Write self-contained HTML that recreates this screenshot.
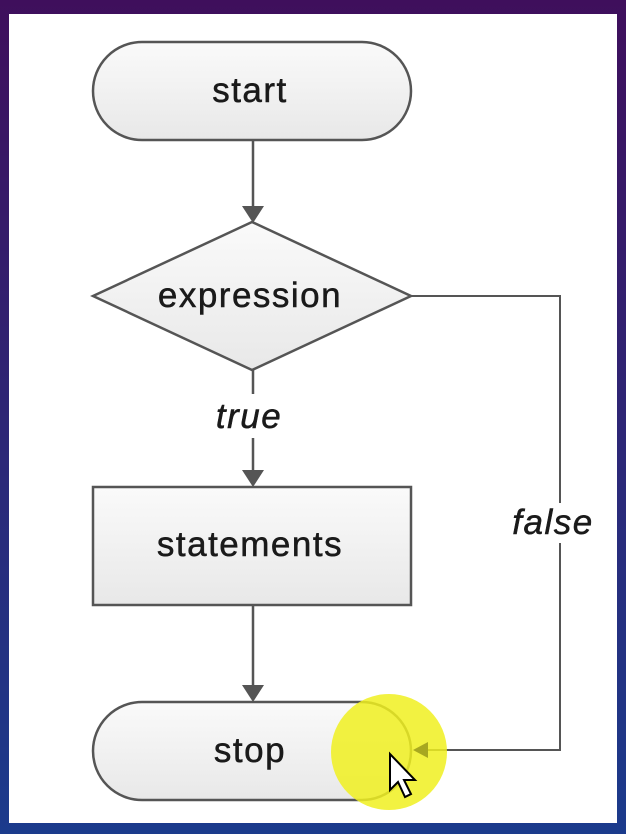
<!DOCTYPE html>
<html><head><style>
html,body{margin:0;padding:0;}
body{width:626px;height:834px;background:linear-gradient(180deg,#3f0f5c 0%,#2a2a7a 60%,#1b3b8c 100%);position:relative;overflow:hidden;}
.panel{position:absolute;left:9px;top:14px;width:608px;height:809px;background:#fff;}
svg{position:absolute;left:0;top:0;}
</style></head><body>
<div class="panel"></div>
<svg width="626" height="834" viewBox="0 0 626 834" font-family="Liberation Sans, sans-serif">
<defs>
<linearGradient id="g" x1="0" y1="0" x2="0" y2="1"><stop offset="0" stop-color="#fafafa"/><stop offset="1" stop-color="#e8e8e8"/></linearGradient>
</defs>
<g stroke="#555" stroke-width="2.5" fill="url(#g)">
<rect x="93" y="42" width="318" height="98" rx="49"/>
<polygon points="93,296 252,222 411,296 252,370"/>
<rect x="93" y="487" width="318" height="118"/>
<rect x="93" y="702" width="318" height="98" rx="49"/>
</g>
<g stroke="#555" stroke-width="2.5" fill="none">
<line x1="253" y1="140" x2="253" y2="208"/>
<line x1="253" y1="370" x2="253" y2="394"/>
<line x1="253" y1="438" x2="253" y2="472"/>
<line x1="253" y1="605" x2="253" y2="687"/>
<polyline points="411,296 560,296 560,750 425,750" stroke-width="2"/>
</g>
<g fill="#555">
<polygon points="242,206 264,206 253,223"/>
<polygon points="242,470 264,470 253,487"/>
<polygon points="242,685 264,685 253,702"/>
</g>
<rect x="498" y="503" width="104" height="40" fill="#fff"/>
<g font-size="35" fill="#1a1a1a" text-anchor="middle" letter-spacing="1.5" stroke="#1a1a1a" stroke-width="0.5">
<text x="250" y="102">start</text>
<text x="250" y="307">expression</text>
<text x="250" y="556">statements</text>
<text x="250" y="762">stop</text>
<text x="249" y="428" font-style="italic">true</text>
<text x="553" y="534" font-style="italic">false</text>
</g>
<circle cx="389" cy="752" r="58" fill="#f0f020" opacity="0.85"/>
<polygon points="413,750 428,742 428,758" fill="#a8a820"/>
<polygon points="390,754 390,790 398,782 405,797 411,794 404,780 415,780" fill="#fff" stroke="#000" stroke-width="2"/>
</svg>
</body></html>
